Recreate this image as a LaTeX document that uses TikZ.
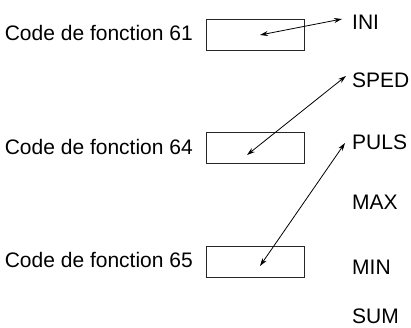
\documentclass[tikz,border=0pt]{standalone}
\usepackage{fontspec}
\setmainfont{Liberation Sans}
\usetikzlibrary{arrows.meta}
\begin{document}
\begin{tikzpicture}[x=1pt,y=-1pt,
  lbl/.style={font=\fontsize{21}{25}\selectfont, inner sep=0pt},
  box/.style={draw=black!85, line width=0.9pt, minimum width=98pt, minimum height=31pt, inner sep=0pt},
  link/.style={line width=0.8pt, {Stealth[length=8pt,width=5pt]}-{Stealth[length=8pt,width=5pt]}}]
\useasboundingbox (0,0) rectangle (411,327);
% boxes
\node[box] (b1) at (255,34.5) {};
\node[box] (b2) at (255,148) {};
\node[box] (b3) at (255,261.5) {};
% left labels
\node[lbl, anchor=east] (c1) at (193,33) {Code de fonction 61};
\node[lbl, anchor=east] (c2) at (193,147) {Code de fonction 64};
\node[lbl, anchor=east] (c3) at (193,260) {Code de fonction 65};
% right labels
\node[lbl, anchor=west] (ini) at (352,22) {INI};
\node[lbl, anchor=west] (sped) at (352,80) {SPED};
\node[lbl, anchor=west] (puls) at (352,142) {PULS};
\node[lbl, anchor=west] (max) at (352,202) {MAX};
\node[lbl, anchor=west] (min) at (352,267) {MIN};
\node[lbl, anchor=west] (sum) at (352,316) {SUM};
% arrow end points
\coordinate (p1) at (260,35);
\coordinate (q1) at (342,19);
\coordinate (p2) at (247,155);
\coordinate (q2) at (346,76);
\coordinate (p3) at (260,266);
\coordinate (q3) at (345,143);
\draw[link] (p1) -- (q1);
\draw[link] (p2) -- (q2);
\draw[link] (p3) -- (q3);
\end{tikzpicture}
\end{document}
